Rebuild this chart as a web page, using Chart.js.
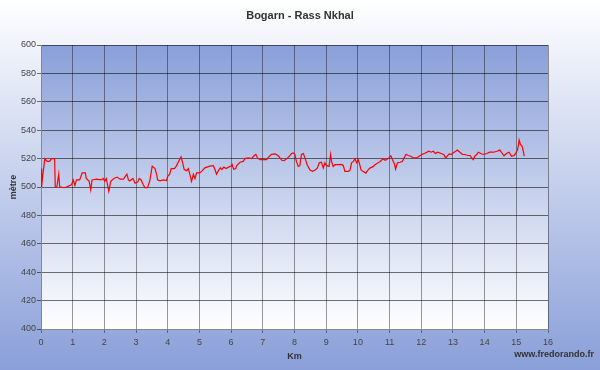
<!DOCTYPE html>
<html>
<head>
<meta charset="utf-8">
<title>Bogarn - Rass Nkhal</title>
<script src="https://cdn.jsdelivr.net/npm/chart.js@4/dist/chart.umd.min.js"></script>
<style>
    body { margin: 0; background: #ffffff; }
    #profileChart { display: block; }
</style>
</head>
<body>
<canvas id="profileChart" width="600" height="370"></canvas>
<script>
// Distance along the trail (km)
const kmPoints = [
    0.00, 0.02, 0.05, 0.12, 0.20, 0.27, 0.33, 0.43, 0.45, 0.50, 0.56, 0.59, 0.65, 0.72, 0.80, 0.90, 0.96,
    1.02, 1.07, 1.12, 1.22, 1.30, 1.40, 1.43, 1.52, 1.57, 1.61, 1.75, 1.90, 1.96,
    2.01, 2.06, 2.14, 2.20, 2.30, 2.40, 2.50, 2.60, 2.71, 2.76, 2.80, 2.90, 2.97,
    3.05, 3.10, 3.16, 3.22, 3.28, 3.36, 3.43, 3.51, 3.60, 3.65, 3.68, 3.75, 3.86, 3.96,
    4.00, 4.06, 4.11, 4.21, 4.27, 4.35, 4.42, 4.47, 4.52, 4.60, 4.65, 4.70, 4.75, 4.81, 4.86, 4.91,
    5.01, 5.07, 5.17, 5.33, 5.44, 5.49, 5.54, 5.60, 5.66, 5.71, 5.77, 5.84, 5.92,
    6.00, 6.03, 6.08, 6.15, 6.17, 6.28, 6.38, 6.44, 6.54, 6.65, 6.72, 6.78, 6.83, 6.91,
    7.02, 7.12, 7.21, 7.28, 7.39, 7.49, 7.60, 7.67, 7.76, 7.84, 7.91, 7.96,
    8.01, 8.06, 8.12, 8.17, 8.22, 8.28, 8.33, 8.40, 8.49, 8.57, 8.65, 8.72, 8.78, 8.85, 8.91, 8.96,
    9.01, 9.09, 9.14, 9.17, 9.22, 9.28, 9.38, 9.49, 9.54, 9.59, 9.70, 9.75, 9.80, 9.86, 9.91, 9.96,
    10.01, 10.05, 10.10, 10.17, 10.25, 10.31, 10.38, 10.49, 10.54, 10.59, 10.64, 10.70, 10.80, 10.86, 10.91, 10.98,
    11.04, 11.09, 11.15, 11.19, 11.25, 11.33, 11.40, 11.46, 11.52, 11.59, 11.67, 11.75, 11.85, 11.96,
    12.03, 12.10, 12.24, 12.31, 12.38, 12.45, 12.52, 12.63, 12.71, 12.77, 12.82, 12.88, 12.95,
    13.00, 13.09, 13.14, 13.22, 13.30, 13.37, 13.48, 13.54, 13.59, 13.64, 13.69, 13.75, 13.80, 13.88, 13.96,
    14.07, 14.16, 14.28, 14.39, 14.48, 14.56, 14.61, 14.69, 14.77, 14.85, 14.93, 14.98,
    15.04, 15.07, 15.09, 15.13, 15.18, 15.22, 15.25
];

// Altitude at each point (metres)
const altitude = [
    513, 500, 507, 520, 518, 518, 520, 520, 500, 500, 509, 500, 500, 499.5, 500, 501, 501.5,
    505, 501, 505, 505, 510, 510, 506, 504, 498, 505, 505.5, 505, 506,
    504, 506, 497, 504, 506, 507, 505.5, 505.5, 509, 505, 504.3, 506, 502.6,
    503.4, 506, 505, 502, 499.5, 499.5, 504, 514.7, 513, 508.7, 505, 504.3, 505, 504.6,
    507.5, 509, 513, 513, 514.7, 518.3, 521.2, 517, 512.3, 511.5, 513, 508.7, 504, 509, 506, 510,
    510, 511, 513.5, 514.7, 515, 512.3, 509, 511.5, 513.5, 512.3, 514, 513, 514,
    514.7, 516, 512.5, 513, 515, 517.4, 518, 520, 520.5, 520, 522, 523, 520.5, 519.3,
    519.3, 519.3, 521.7, 523, 523.3, 522, 518.8, 518.5, 520, 521.7, 523.6, 524,
    523, 518, 514.5, 515, 523, 523.6, 520.5, 515.7, 512, 511, 512, 513.3, 517, 517.4, 513.3, 517,
    515, 514.5, 522.9, 518, 514.5, 515.7, 515.7, 516, 515, 511, 511, 511.7, 517, 518, 519.8, 517,
    519.3, 516.4, 512, 511, 509.8, 511.7, 513.3, 514.5, 515.7, 516.4, 517, 518, 519.8, 518.8, 519.3, 520.5,
    522, 519.3, 516.4, 512.6, 517, 517.4, 518, 520.5, 523, 522.2, 521.7, 520.5, 520.5, 522,
    523, 523.6, 525.2, 524.5, 525.2, 523.6, 524.5, 523.6, 522.9, 520.5, 521.7, 523.3, 522.9,
    524, 525.2, 526, 524.5, 522.9, 522.9, 522.2, 522.2, 520.5, 519.3, 521.7, 522.9, 524.5, 523.6, 522.9,
    523.6, 524.5, 524.5, 525.2, 526, 523.6, 522, 523.6, 524.5, 521.7, 522.2, 523.6,
    526.4, 530, 533.1, 530, 528.8, 525.2, 521.7
];

// Axis ranges
const kmRange = [0, 16];
const altitudeRange = [400, 600];

const chartTitle = 'Bogarn - Rass Nkhal';
const siteName = 'www.fredorando.fr';

const textColor = '#333333';
const fontFamily = "'Liberation Sans', Arial, sans-serif";

// Draws the page gradient, the plot gradient, the title and the site name
const backgroundPlugin = {
    id: 'profileBackground',
    beforeDraw(chart) {
        const ctx = chart.ctx;
        const area = chart.chartArea;

        // Page: white on top, blue at the bottom
        const pageGradient = ctx.createLinearGradient(0, 0, 0, chart.height);
        pageGradient.addColorStop(0, '#ffffff');
        pageGradient.addColorStop(1, '#8a9fd9');
        ctx.save();
        ctx.fillStyle = pageGradient;
        ctx.fillRect(0, 0, chart.width, chart.height);

        // Plot area: blue on top, white at the bottom
        const plotGradient = ctx.createLinearGradient(0, area.top, 0, area.bottom);
        plotGradient.addColorStop(0, '#8a9fd9');
        plotGradient.addColorStop(1, '#ffffff');
        ctx.fillStyle = plotGradient;
        ctx.fillRect(area.left, area.top, area.right - area.left, area.bottom - area.top);
        ctx.restore();
    },
    afterDraw(chart) {
        const ctx = chart.ctx;
        ctx.save();
        ctx.fillStyle = textColor;
        ctx.textBaseline = 'middle';

        // Title is centred on the whole picture, not on the plot
        ctx.font = 'bold 11px ' + fontFamily;
        ctx.textAlign = 'center';
        ctx.fillText(chartTitle, chart.width / 2, 16);

        ctx.font = 'bold 9px ' + fontFamily;
        ctx.textAlign = 'right';
        ctx.fillText(siteName, 594, 355);
        ctx.restore();
    }
};

function renderProfileChart() {
    const ctx = document.getElementById('profileChart').getContext('2d');

    const points = kmPoints.map((km, i) => ({ x: km, y: altitude[i] }));

    new Chart(ctx, {
        type: 'line',
        data: {
            datasets: [{
                label: 'Altitude',
                data: points,
                borderColor: '#ff0000',
                borderWidth: 1.2,
                pointRadius: 0,
                tension: 0,
                fill: false
            }]
        },
        options: {
            responsive: false,
            animation: false,
            layout: {
                padding: { left: 0, right: 52, top: 45, bottom: 0 }
            },
            plugins: {
                legend: { display: false },
                tooltip: { enabled: false },
                title: { display: false }
            },
            scales: {
                x: {
                    type: 'linear',
                    min: kmRange[0],
                    max: kmRange[1],
                    ticks: {
                        stepSize: 1,
                        color: '#444444',
                        padding: 4,
                        maxRotation: 0,
                        font: { family: fontFamily, size: 9 }
                    },
                    grid: {
                        color: 'rgba(0, 0, 0, 0.4)',
                        tickLength: 4
                    },
                    border: { color: '#888888' },
                    title: {
                        display: true,
                        text: 'Km',
                        color: textColor,
                        font: { family: fontFamily, size: 9, weight: 'bold' },
                        padding: { top: 4, bottom: 8 }
                    },
                    afterFit(scale) {
                        scale.height = 41;
                    }
                },
                y: {
                    min: altitudeRange[0],
                    max: altitudeRange[1],
                    ticks: {
                        stepSize: 20,
                        color: '#444444',
                        padding: 1,
                        font: { family: fontFamily, size: 9 }
                    },
                    grid: {
                        color: 'rgba(0, 0, 0, 0.55)',
                        tickLength: 4
                    },
                    border: { color: '#888888' },
                    title: {
                        display: true,
                        text: 'mètre',
                        color: textColor,
                        font: { family: fontFamily, size: 9, weight: 'bold' },
                        padding: { top: 8, bottom: 0 }
                    },
                    afterFit(scale) {
                        scale.width = 41;
                    }
                }
            }
        },
        plugins: [backgroundPlugin]
    });
}

window.onload = function() {
    renderProfileChart();
};
</script>
</body>
</html>
